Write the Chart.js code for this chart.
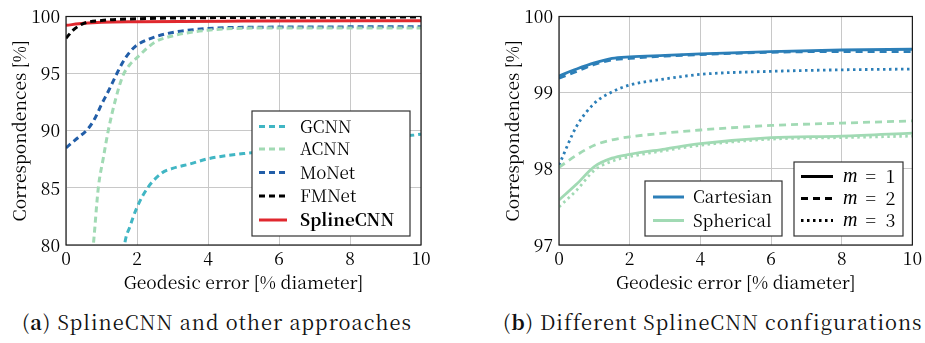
<!DOCTYPE html>
<html><head><meta charset="utf-8">
<script src="https://cdn.jsdelivr.net/npm/chart.js@4"></script>
<style>
html,body{margin:0;padding:0;background:#fff;}
body{width:925px;height:343px;overflow:hidden;position:relative;font-family:"Noto Serif CJK SC","Liberation Serif",serif;}
#wa{position:absolute;left:0;top:0;width:460px;height:300px;}
#wb{position:absolute;left:460px;top:0;width:465px;height:300px;}
.cap{position:absolute;top:311px;font-size:20px;line-height:21px;white-space:nowrap;color:#111;}
.cap b{font-weight:bold;}
</style></head>
<body>
<div id="wa"><canvas id="ca" width="460" height="300"></canvas></div>
<div id="wb"><canvas id="cb" width="465" height="300"></canvas></div>
<div class="cap" id="capA" data-w="390" style="left:22px;">(<b>a</b>) SplineCNN and other approaches</div>
<div class="cap" id="capB" data-w="417" style="left:503px;">(<b>b</b>) Different SplineCNN configurations</div>
<script>
// ---------- Data: (a) SplineCNN and other approaches ----------
const xTicksLabels = [0, 2, 4, 6, 8, 10];
const seriesA = ['GCNN', 'ACNN', 'MoNet', 'FMNet', 'SplineCNN'];
const gcnnX = [1.5, 1.65, 1.8, 2.0, 2.3, 2.7, 3.0, 3.5, 4.0, 5.0, 6.0, 8.0, 10.0];
const gcnnY = [75, 80, 81.6, 83.3, 85, 86.3, 86.7, 87.1, 87.55, 88.0, 88.3, 89.0, 89.7];
const acnnX = [0.6, 0.77, 0.91, 1.05, 1.19, 1.4, 1.6, 1.8, 2.0, 2.5, 3.0, 4.0, 6.0, 10.0];
const acnnY = [75, 80, 85, 87.6, 90, 92.8, 94.8, 95.8, 96.4, 97.75, 98.3, 98.8, 99.0, 99.0];
const monetX = [0, 0.3, 0.6, 0.8, 1.0, 1.2, 1.4, 1.6, 1.8, 2.0, 2.5, 3.0, 4.0, 5.0, 10.0];
const monetY = [88.5, 89.3, 90.1, 91.0, 92.3, 93.5, 94.8, 96.0, 96.9, 97.5, 98.2, 98.6, 98.95, 99.05, 99.1];
const fmnetX = [0, 0.2, 0.5, 1.0, 2.0, 4.0, 10.0];
const fmnetY = [98.1, 98.8, 99.4, 99.65, 99.8, 99.9, 99.95];
const splineX = [0, 0.5, 1.0, 2.0, 5.0, 10.0];
const splineY = [99.23, 99.4, 99.5, 99.55, 99.6, 99.63];
const yTicksA = [80, 85, 90, 95, 100];

// ---------- Data: (b) Different SplineCNN configurations ----------
const xB = [0, 0.5, 1, 1.5, 2, 3, 4, 6, 8, 10];
const cart1 = [99.22, 99.31, 99.39, 99.45, 99.47, 99.49, 99.51, 99.54, 99.56, 99.57];
const cart2 = [99.19, 99.28, 99.37, 99.43, 99.45, 99.48, 99.50, 99.53, 99.54, 99.54];
const cart3 = [98.05, 98.56, 98.86, 99.01, 99.10, 99.18, 99.24, 99.28, 99.30, 99.31];
const sph1 = [97.59, 97.80, 98.03, 98.14, 98.19, 98.26, 98.33, 98.41, 98.43, 98.47];
const sph2 = [98.02, 98.18, 98.31, 98.38, 98.42, 98.47, 98.51, 98.57, 98.60, 98.63];
const sph3 = [97.50, 97.72, 97.98, 98.10, 98.16, 98.24, 98.31, 98.39, 98.41, 98.43];
const yTicksB = [97, 98, 99, 100];
const seriesB = ['Cartesian', 'Spherical'];
const mLabels = ['1', '2', '3'];

const FONT = '"Noto Serif CJK SC", "Liberation Serif", serif';
const MFONT = '"Liberation Serif", serif';
const FS = 17.5;
Chart.defaults.font.family = FONT;
Chart.defaults.color = '#000';
Chart.defaults.animation = false;

const C_GCNN = '#41b6c4', C_ACNN = '#a1dab4', C_MONET = '#225ea8', C_FM = '#000000', C_SPL = '#e0282e';
const C_CART = '#2c7fb8', C_SPH = '#a1dab4';
const DASH = [6, 4], DASHB = [7, 5], DOT = [2.5, 3.5];

function pts(xs, ys) { return xs.map((x, i) => ({ x: x, y: ys[i] })); }

const framePlugin = {
  id: 'frame',
  afterDatasetsDraw(chart, args, opts) {
    const { ctx, chartArea: a } = chart;
    ctx.save();
    ctx.strokeStyle = '#1a1a1a';
    ctx.lineWidth = 1.2;
    ctx.strokeRect(a.left, a.top, a.right - a.left, a.bottom - a.top);
    (opts.boxes || []).forEach(b => {
      ctx.fillStyle = '#fff';
      ctx.fillRect(b.x, b.y, b.w, b.h);
      ctx.strokeStyle = '#333';
      ctx.lineWidth = 1.2;
      ctx.strokeRect(b.x, b.y, b.w, b.h);
      b.items.forEach(it => {
        ctx.beginPath();
        ctx.setLineDash(it.dash || []);
        ctx.strokeStyle = it.color;
        ctx.lineWidth = it.width || 3;
        ctx.moveTo(b.lx0, it.y);
        ctx.lineTo(b.lx1, it.y);
        ctx.stroke();
        ctx.setLineDash([]);
        ctx.fillStyle = '#000';
        ctx.textBaseline = 'middle';
        ctx.textAlign = 'left';
        if (it.m) {
          ctx.font = 'italic 20px ' + MFONT;
          ctx.fillText('m', b.tx, it.y);
          const w = ctx.measureText('m').width;
          ctx.font = b.fs + 'px ' + FONT;
          ctx.fillText('=', b.tx + w + 8, it.y);
          ctx.fillText(it.label, b.tx + w + 28, it.y);
        } else {
          ctx.font = (it.bold ? 'bold ' : '') + b.fs + 'px ' + FONT;
          ctx.fillText(it.label, b.tx, it.y);
        }
      });
    });
    ctx.restore();
  }
};

function axisOpts(min, max, ticksArr, isX, title) {
  return {
    type: 'linear', min: min, max: max,
    afterBuildTicks: s => { s.ticks = ticksArr.map(v => ({ value: v })); },
    ticks: { font: { size: FS, family: FONT }, padding: isX ? 3 : 6, color: '#000' },
    grid: { color: '#c8c8c8', lineWidth: 1, drawTicks: false },
    border: { display: false },
    title: { display: true, text: title, font: { size: FS, family: FONT }, color: '#000',
             padding: isX ? { top: 0, bottom: 7 } : { top: 9, bottom: 0 } },
    afterFit: s => { if (isX) s.height = 55; else s.width = 66; }
  };
}

function ds(label, data, color, dash, width) {
  return { label: label, data: data, borderColor: color, backgroundColor: color,
           borderDash: dash, borderWidth: width, pointRadius: 0, fill: false,
           cubicInterpolationMode: 'monotone', borderCapStyle: 'butt' };
}

function build() {
new Chart(document.getElementById('ca'), {
  type: 'line',
  data: {
    datasets: [
      ds(seriesA[0], pts(gcnnX, gcnnY), C_GCNN, DASH, 3),
      ds(seriesA[1], pts(acnnX, acnnY), C_ACNN, DASH, 3),
      ds(seriesA[2], pts(monetX, monetY), C_MONET, DASH, 3),
      ds(seriesA[3], pts(fmnetX, fmnetY), C_FM, DASH, 3),
      ds(seriesA[4], pts(splineX, splineY), C_SPL, [], 3)
    ]
  },
  options: {
    responsive: false,
    layout: { padding: { left: 0, top: 11, right: 39, bottom: 0 } },
    scales: {
      x: axisOpts(0, 10, xTicksLabels, true, 'Geodesic error [% diameter]'),
      y: axisOpts(80, 100, yTicksA, false, 'Correspondences [%]')
    },
    plugins: {
      legend: { display: false }, tooltip: { enabled: false },
      frame: { boxes: [{
        x: 252, y: 111, w: 158, h: 125, lx0: 259, lx1: 287, tx: 300, fs: 17,
        items: [
          { label: seriesA[0], color: C_GCNN, dash: DASH, y: 126.5 },
          { label: seriesA[1], color: C_ACNN, dash: DASH, y: 149 },
          { label: seriesA[2], color: C_MONET, dash: DASH, y: 172.5 },
          { label: seriesA[3], color: C_FM, dash: DASH, y: 196 },
          { label: seriesA[4], color: C_SPL, dash: [], y: 220, bold: true }
        ]
      }] }
    }
  },
  plugins: [framePlugin]
});

new Chart(document.getElementById('cb'), {
  type: 'line',
  data: {
    datasets: [
      ds(seriesB[1] + ' m=3', pts(xB, sph3), C_SPH, DOT, 2.8),
      ds(seriesB[1] + ' m=2', pts(xB, sph2), C_SPH, DASHB, 2.8),
      ds(seriesB[1] + ' m=1', pts(xB, sph1), C_SPH, [], 2.8),
      ds(seriesB[0] + ' m=3', pts(xB, cart3), C_CART, DOT, 2.8),
      ds(seriesB[0] + ' m=2', pts(xB, cart2), C_CART, DASHB, 2.8),
      ds(seriesB[0] + ' m=1', pts(xB, cart1), C_CART, [], 2.8)
    ]
  },
  options: {
    responsive: false,
    layout: { padding: { left: 33, top: 11, right: 11, bottom: 0 } },
    scales: {
      x: axisOpts(0, 10, xTicksLabels, true, 'Geodesic error [% diameter]'),
      y: axisOpts(97, 100, yTicksB, false, 'Correspondences [%]')
    },
    plugins: {
      legend: { display: false }, tooltip: { enabled: false },
      frame: { boxes: [
        { x: 185, y: 181, w: 137, h: 55, lx0: 193, lx1: 224, tx: 233, fs: 17,
          items: [
            { label: seriesB[0], color: C_CART, dash: [], y: 197 },
            { label: seriesB[1], color: C_SPH, dash: [], y: 220.5 }
          ] },
        { x: 334, y: 162, w: 109, h: 74, lx0: 341, lx1: 373, tx: 383, fs: 18,
          items: [
            { label: mLabels[0], color: '#000', dash: [], y: 176.5, m: true },
            { label: mLabels[1], color: '#000', dash: DASHB, y: 198.5, m: true },
            { label: mLabels[2], color: '#000', dash: DOT, y: 220.5, m: true }
          ] }
      ] }
    }
  },
  plugins: [framePlugin]
});

document.querySelectorAll('.cap').forEach(el => {
  const target = +el.dataset.w;
  el.style.letterSpacing = '0px';
  const w = el.getBoundingClientRect().width;
  const n = el.textContent.length;
  el.style.letterSpacing = ((target - w) / n) + 'px';
});
}
if (document.fonts && document.fonts.load) {
  Promise.all([
    document.fonts.load('17px "Noto Serif CJK SC"'),
    document.fonts.load('bold 17px "Noto Serif CJK SC"'),
    document.fonts.load('italic 20px "Liberation Serif"')
  ]).then(build, build);
} else { build(); }
</script>
</body></html>
